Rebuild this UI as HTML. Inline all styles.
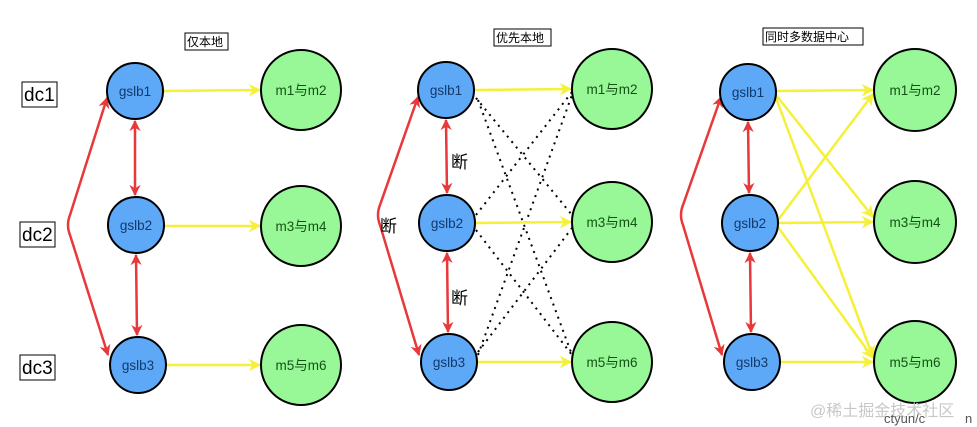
<!DOCTYPE html>
<html><head><meta charset="utf-8"><style>
html,body{margin:0;padding:0;background:#fff;width:977px;height:427px;overflow:hidden}
svg text{font-family:"Liberation Sans","Noto Sans CJK SC",sans-serif}
</style></head><body>
<svg width="977" height="427" viewBox="0 0 977 427" xmlns="http://www.w3.org/2000/svg">
<defs>
<marker id="ay" viewBox="0 0 10 10" refX="9" refY="5" markerWidth="5" markerHeight="5" orient="auto"><path d="M0,0 L10,5 L0,10 L3,5 z" fill="#f5f03a"/></marker>
<marker id="ar" viewBox="0 0 10 10" refX="9" refY="5" markerWidth="4.5" markerHeight="4.5" orient="auto-start-reverse"><path d="M0,0 L10,5 L0,10 L3,5 z" fill="#e8383a"/></marker>
</defs>
<g font-size="19" fill="#000">
<rect x="22" y="82" width="35" height="25" fill="#fff" stroke="#000"/><text x="24" y="101">dc1</text>
<rect x="20" y="222" width="35" height="25" fill="#fff" stroke="#000"/><text x="22" y="241">dc2</text>
<rect x="20" y="355" width="35" height="25" fill="#fff" stroke="#000"/><text x="22" y="374">dc3</text>
</g>
<g font-size="12">
<rect x="185" y="33" width="43" height="17" fill="#fff" stroke="#000"/><text x="187" y="46">仅本地</text>
<rect x="494" y="29" width="57" height="17" fill="#fff" stroke="#000"/><text x="496" y="42">优先本地</text>
<rect x="763" y="28" width="100" height="17" fill="#fff" stroke="#000"/><text x="765" y="41">同时多数据中心</text>
</g>
<g fill="none" stroke="#e8383a" stroke-width="2.5">
<path d="M107,98 L70,215 Q66,225 70,235 L108,355" marker-end="url(#ar)" marker-start="url(#ar)"/>
<path d="M418,97 L380,205 Q376,215 380,225 L419,355" marker-end="url(#ar)" marker-start="url(#ar)"/>
<path d="M721,97 L683,205 Q679,215 683,225 L722,355" marker-end="url(#ar)" marker-start="url(#ar)"/>
<line x1="135" y1="121" x2="135" y2="195" marker-end="url(#ar)" marker-start="url(#ar)"/>
<line x1="136" y1="255" x2="137" y2="335" marker-end="url(#ar)" marker-start="url(#ar)"/>
<line x1="446" y1="120" x2="447" y2="193" marker-end="url(#ar)" marker-start="url(#ar)"/>
<line x1="447" y1="253" x2="448" y2="332" marker-end="url(#ar)" marker-start="url(#ar)"/>
<line x1="748" y1="122" x2="749" y2="193" marker-end="url(#ar)" marker-start="url(#ar)"/>
<line x1="750" y1="253" x2="751" y2="332" marker-end="url(#ar)" marker-start="url(#ar)"/>
</g>
<g font-size="17"><text x="451" y="168">断</text><text x="451" y="304">断</text><text x="380" y="232">断</text></g>
<g stroke="#000" stroke-width="2" stroke-dasharray="2,5" fill="none">
<line x1="476" y1="98" x2="572" y2="215"/><line x1="478" y1="100" x2="572" y2="355"/>
<line x1="476" y1="215" x2="572" y2="92"/><line x1="476" y1="230" x2="572" y2="355"/>
<line x1="478" y1="355" x2="572" y2="95"/><line x1="478" y1="352" x2="572" y2="228"/>
</g>
<g stroke="#f5f03a" stroke-width="2.5" fill="none" marker-end="url(#ay)">
<line x1="163" y1="91" x2="260" y2="90"/><line x1="164" y1="226" x2="260" y2="226"/><line x1="166" y1="365" x2="260" y2="365"/>
<line x1="474" y1="90" x2="571" y2="89"/><line x1="475" y1="223" x2="571" y2="222"/><line x1="477" y1="362" x2="571" y2="362"/>
<line x1="776" y1="91" x2="873" y2="90"/><line x1="778" y1="223" x2="873" y2="222"/><line x1="780" y1="362" x2="873" y2="362"/>
<line x1="776" y1="95" x2="873" y2="217"/><line x1="776" y1="98" x2="873" y2="357"/>
<line x1="778" y1="220" x2="873" y2="94"/><line x1="778" y1="227" x2="873" y2="358"/>
</g>
<g stroke="#000" stroke-width="2">
<g fill="#5ea8f8">
<circle cx="135" cy="91" r="28"/><circle cx="136" cy="225" r="28"/><circle cx="138" cy="365" r="28"/>
<circle cx="446" cy="90" r="28"/><circle cx="447" cy="223" r="28"/><circle cx="449" cy="362" r="28"/>
<circle cx="748" cy="92" r="28"/><circle cx="750" cy="223" r="28"/><circle cx="752" cy="362" r="28"/>
</g>
<g fill="#98f898">
<circle cx="301" cy="90" r="40"/><circle cx="301" cy="226" r="40"/><circle cx="301" cy="365" r="40"/>
<circle cx="612" cy="89" r="40"/><circle cx="612" cy="222" r="40"/><circle cx="612" cy="362" r="40"/>
<circle cx="915" cy="90" r="41"/><circle cx="915" cy="222" r="41"/><circle cx="915" cy="362" r="41"/>
</g>
</g>
<g font-size="13.5" text-anchor="middle" fill="#123a6a">
<text x="135" y="96">gslb1</text><text x="136" y="230">gslb2</text><text x="138" y="370">gslb3</text>
<text x="446" y="95">gslb1</text><text x="447" y="228">gslb2</text><text x="449" y="367">gslb3</text>
<text x="748" y="97">gslb1</text><text x="750" y="228">gslb2</text><text x="752" y="367">gslb3</text>
</g>
<g font-size="13.5" text-anchor="middle" fill="#145214">
<text x="301" y="95">m1与m2</text><text x="301" y="231">m3与m4</text><text x="301" y="370">m5与m6</text>
<text x="612" y="94">m1与m2</text><text x="612" y="227">m3与m4</text><text x="612" y="367">m5与m6</text>
<text x="915" y="95">m1与m2</text><text x="915" y="227">m3与m4</text><text x="915" y="367">m5与m6</text>
</g>
<text x="810" y="416" font-size="16" fill="#c8c8c8">@稀土掘金技术社区</text>
<text x="884" y="423" font-size="13" fill="#555">ctyun/c</text>
<text x="965" y="423" font-size="13" fill="#555">n</text>
</svg>
</body></html>
